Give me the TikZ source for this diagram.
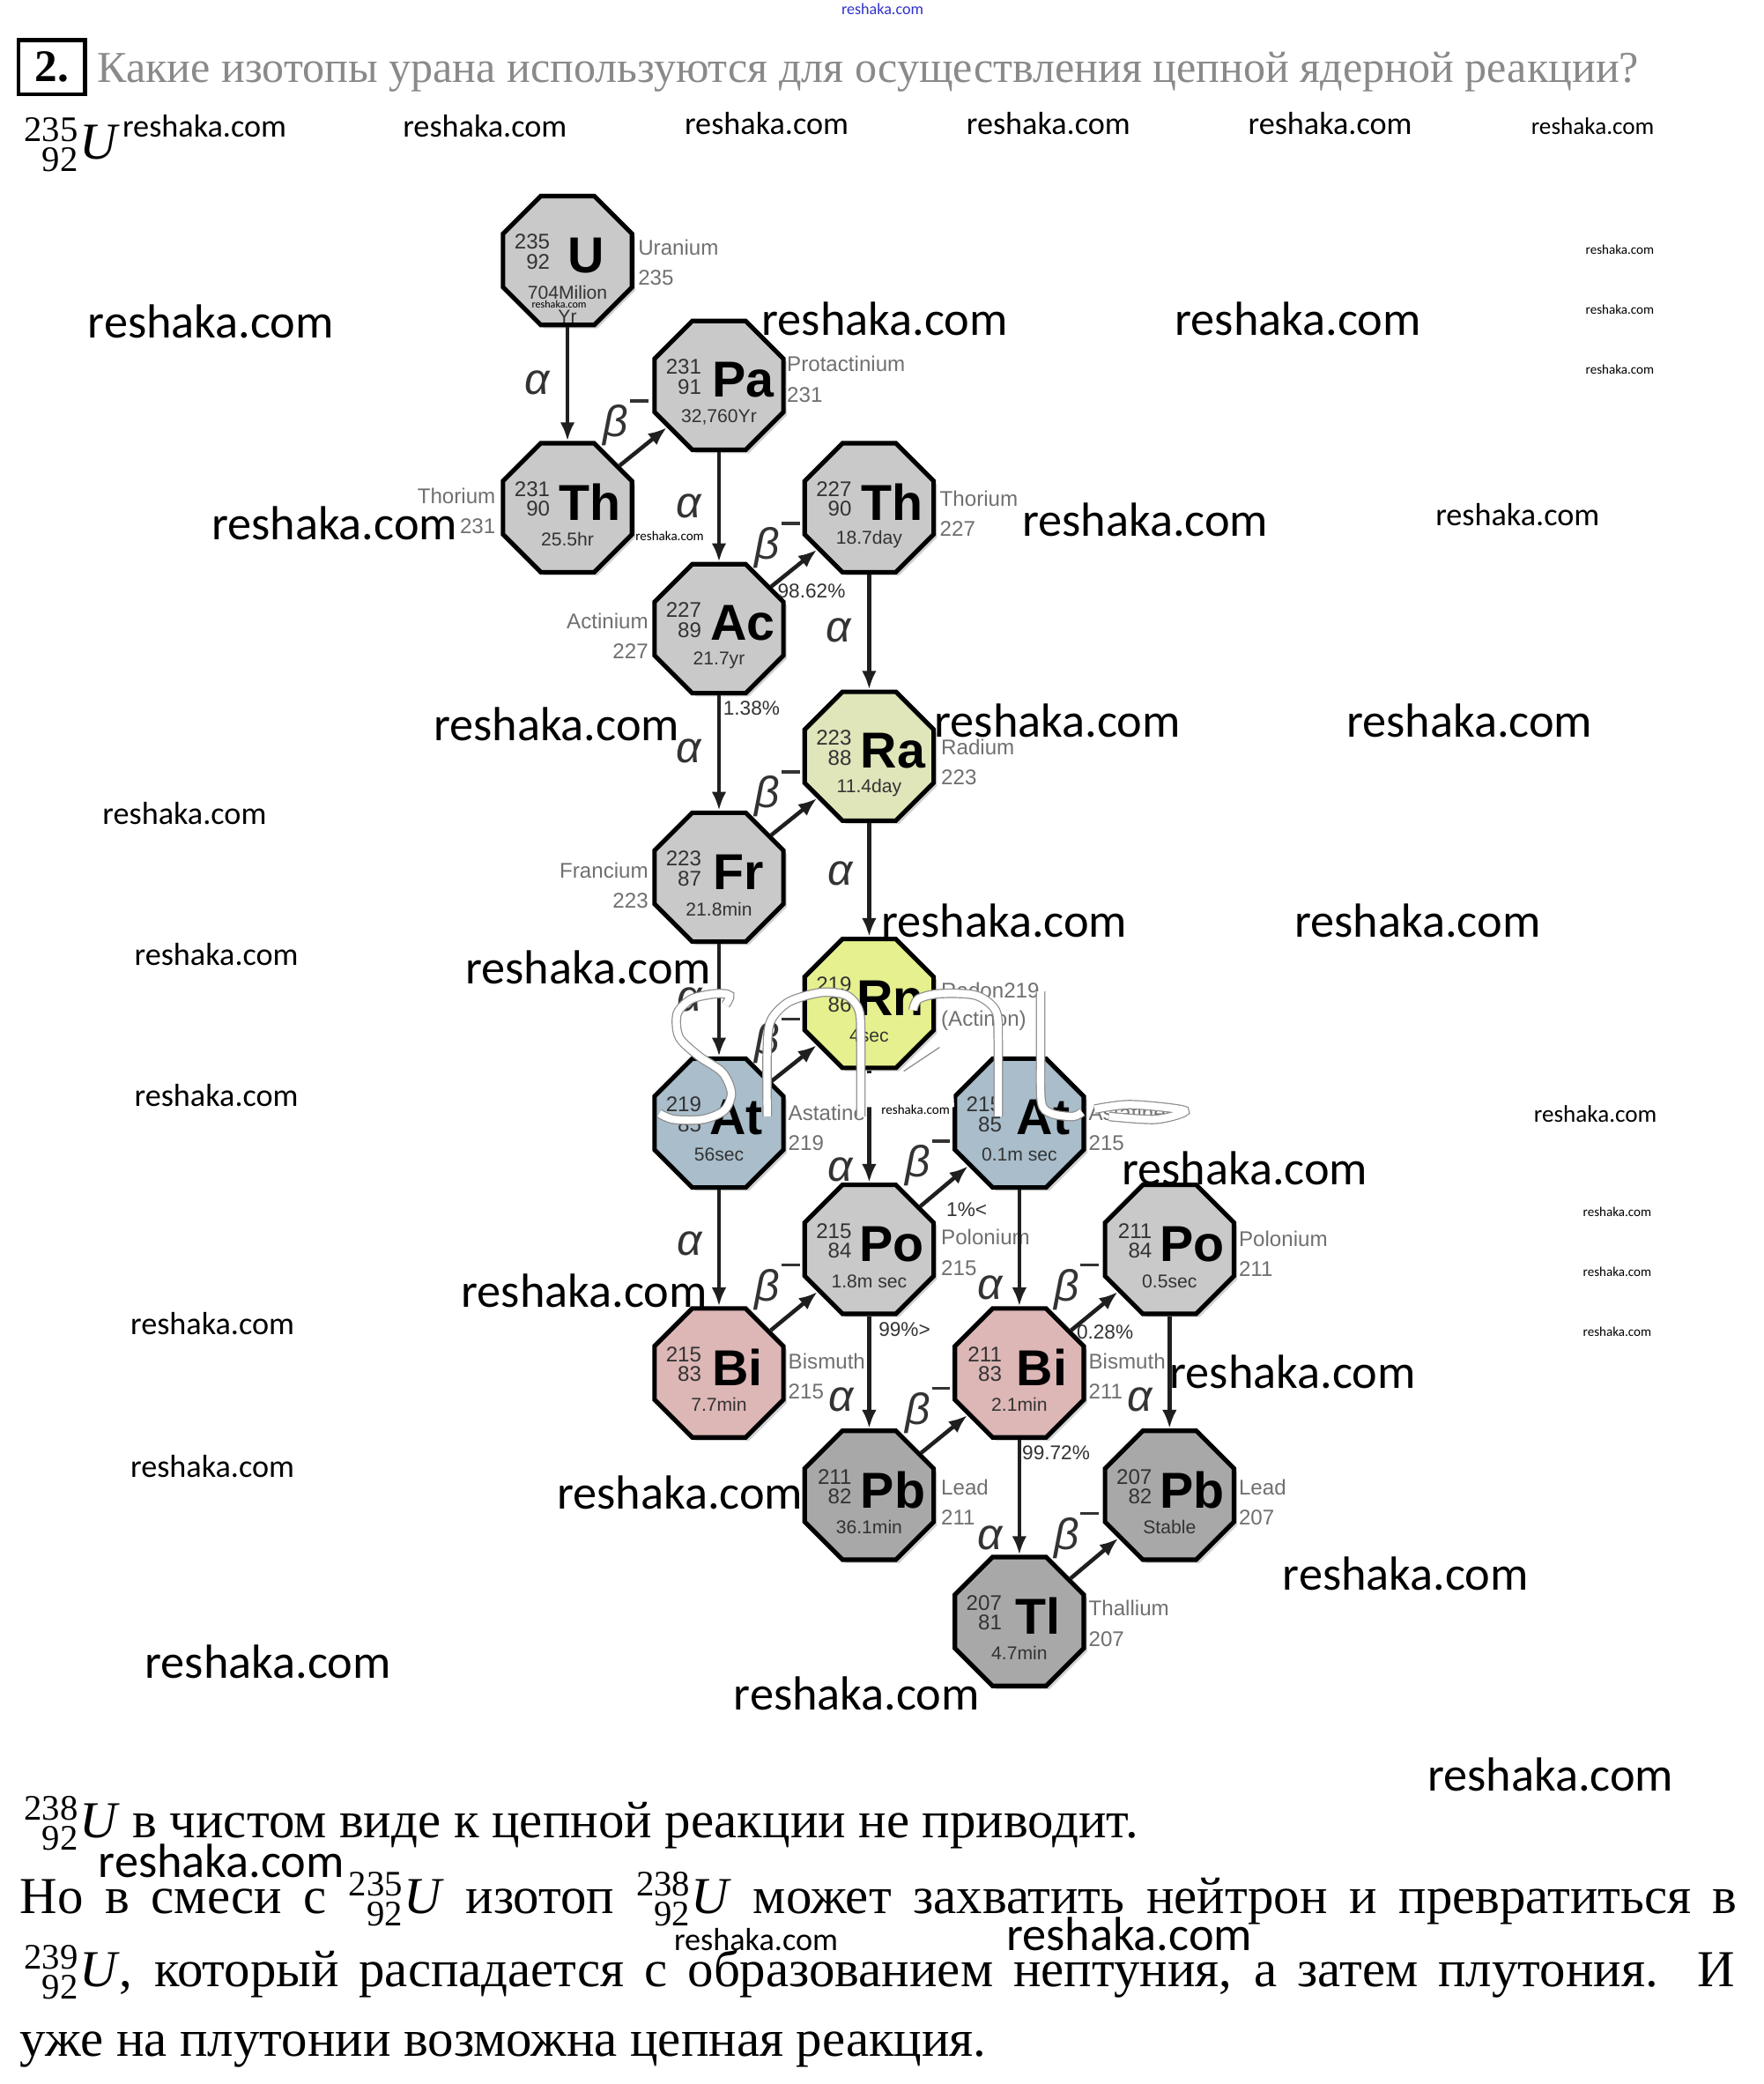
\documentclass[tikz,border=0pt]{standalone}
\usepackage{fontspec}
\usepackage{graphicx}
\setmainfont{Liberation Serif}
\newfontfamily\wmfont{Carlito}
\newfontfamily\arfont{Liberation Sans}
\usetikzlibrary{shapes.geometric,arrows.meta,shadows}
\definecolor{octgray}{HTML}{C9C9C9}
\definecolor{octdark}{HTML}{A8A8A8}
\definecolor{octra}{HTML}{E0E5BA}
\definecolor{octrn}{HTML}{E6F08E}
\definecolor{octat}{HTML}{A9BDCA}
\definecolor{octbi}{HTML}{DDB6B6}
\definecolor{txtdark}{HTML}{333333}
\definecolor{txtgray}{HTML}{707070}
\definecolor{hdrgray}{HTML}{8A8A8A}
\definecolor{wmblue}{HTML}{3333CC}
\tikzset{
  oct/.style={regular polygon, regular polygon sides=8, minimum size=105pt, inner sep=0pt,
    draw=black, line width=3.4pt,
    drop shadow={opacity=0.35, shadow xshift=2.5pt, shadow yshift=-2.5pt}},
  massn/.style={font=\arfont\fontsize{16}{16}\selectfont, text=txtdark, inner sep=0pt},
  symb/.style={font=\arfont\bfseries\fontsize{38}{38}\selectfont, inner sep=0pt},
  hlife/.style={font=\arfont\fontsize{14}{14}\selectfont, text=txtdark, inner sep=0pt},
  elname/.style={font=\arfont\fontsize{16}{16}\selectfont, text=txtgray, inner sep=0pt},
  pct/.style={font=\arfont\fontsize{15}{15}\selectfont, text=txtdark, inner sep=0pt, anchor=west},
  greek/.style={font=\arfont\itshape\fontsize{33}{33}\selectfont, text=txtdark, inner sep=0pt},
  arr/.style={line width=3pt, -{Latex[length=14pt,width=11pt]}, draw=black!88},
  wm/.style={font=\wmfont\fontsize{#1}{#1}\selectfont, inner sep=0pt, anchor=west},
  body/.style={font=\fontsize{39}{39}\selectfont, inner sep=0pt, anchor=base west},
  scrawl/.style={draw=black!45, line width=0.8pt, double=white, double distance=5.5pt},
}
% nuclide: mass, Z, symbol
\newcommand{\nuc}[3]{\mbox{{\fontsize{27}{27}\selectfont
  \setbox0\hbox{#1}\setbox2\hbox{#2}%
  \dimen0=\ifdim\wd0>\wd2 \wd0\else\wd2\fi
  \hbox to \dimen0{\hss\raisebox{0.5em}{#1}}\kern-\dimen0
  \hbox to \dimen0{\hss\raisebox{-0.33em}{#2}}}\kern1pt\textit{#3}}}
% id, x, y, fill, mass, Z, symbol, half-life, symbol x-offset
\newcommand{\iso}[9]{%
  \node[oct, fill=#4] (#1) at (#2,#3) {};
  \node[massn, anchor=east] (#1-a) at (#2-13,#3-14) {#5};
  \node[massn, anchor=east] (#1-z) at (#2-13,#3+1) {#6};
  \node[symb] (#1-s) at (#2+#9,#3-4) {#7};
  \node[hlife] (#1-h) at (#2,#3+24) {#8};
}
\newcommand{\rlab}[5]{%
  \node[elname, anchor=west] (#1-n) at (#2,#3) {#4};
  \node[elname, anchor=west] (#1-m) at (#2,#3+23) {#5};
}
\newcommand{\llab}[5]{%
  \node[elname, anchor=east] (#1-n) at (#2,#3) {#4};
  \node[elname, anchor=east] (#1-m) at (#2,#3+23) {#5};
}
\newcommand{\bminus}{β\hspace{0.04em}\rule[0.78em]{0.42em}{0.07em}}
\begin{document}
\begin{tikzpicture}[x=1pt,y=-1pt]
\useasboundingbox (0,0) rectangle (1327,1568);
\fill[white] (0,0) rectangle (1327,1568);

% header
\node[wm=12, text=wmblue, anchor=center] (wm0) at (664,7) {reshaka.com};
\node[draw, line width=3pt, minimum width=50pt, minimum height=41pt, inner sep=0pt,
  font=\bfseries\fontsize{34}{34}\selectfont] (qnum) at (39,50.5) {2.};
\node[anchor=base west, inner sep=0pt, text=hdrgray, font=\fontsize{34}{34}\selectfont] (qtext) at (73,62)
  {\resizebox{1160pt}{!}{Какие изотопы урана используются для осуществления цепной ядерной реакции?}};
\node[body] (u235) at (18,120) {\nuc{235}{92}{U}};

% isotopes
\iso{U}{427}{196}{octgray}{235}{92}{U}{704Milion}{14}
\node[hlife] (U-yr) at (427,238) {Yr};
\iso{Pa}{541}{290}{octgray}{231}{91}{Pa}{32,760Yr}{18}
\iso{ThA}{427}{382}{octgray}{231}{90}{Th}{25.5hr}{17}
\iso{ThB}{654}{382}{octgray}{227}{90}{Th}{18.7day}{17}
\iso{Ac}{541}{473}{octgray}{227}{89}{Ac}{21.7yr}{18}
\iso{Ra}{654}{569}{octra}{223}{88}{Ra}{11.4day}{18}
\iso{Fr}{541}{660}{octgray}{223}{87}{Fr}{21.8min}{15}
\iso{Rn}{654}{755}{octrn}{219}{86}{Rn}{4sec}{16}
\iso{AtA}{541}{845}{octat}{219}{85}{At}{56sec}{13}
\iso{AtB}{767}{845}{octat}{215}{85}{At}{0.1m sec}{18}
\iso{PoA}{654}{940}{octgray}{215}{84}{Po}{1.8m sec}{17}
\iso{PoB}{880}{940}{octgray}{211}{84}{Po}{0.5sec}{17}
\iso{BiA}{541}{1033}{octbi}{215}{83}{Bi}{7.7min}{14}
\iso{BiB}{767}{1033}{octbi}{211}{83}{Bi}{2.1min}{17}
\iso{PbA}{654}{1125}{octdark}{211}{82}{Pb}{36.1min}{18}
\iso{PbB}{880}{1125}{octdark}{207}{82}{Pb}{Stable}{17}
\iso{Tl}{767}{1220}{octdark}{207}{81}{Tl}{4.7min}{14}

% element names
\rlab{U}{480}{186}{Uranium}{235}
\rlab{Pa}{592}{274}{Protactinium}{231}
\llab{ThA}{373}{373}{Thorium}{231}
\rlab{ThB}{707}{375}{Thorium}{227}
\llab{Ac}{488}{467}{Actinium}{227}
\rlab{Ra}{708}{562}{Radium}{223}
\llab{Fr}{488}{655}{Francium}{223}
\rlab{Rn}{708}{745}{Radon219}{(Actinon)}
\rlab{AtA}{593}{837}{Astatine}{219}
\rlab{AtB}{819}{837}{Astatine}{215}
\rlab{PoA}{708}{931}{Polonium}{215}
\rlab{PoB}{932}{932}{Polonium}{211}
\rlab{BiA}{593}{1024}{Bismuth}{215}
\rlab{BiB}{819}{1024}{Bismuth}{211}
\rlab{PbA}{708}{1119}{Lead}{211}
\rlab{PbB}{932}{1119}{Lead}{207}
\rlab{Tl}{819}{1210}{Thallium}{207}

% branching ratios
\node[pct] (p1) at (585,445) {98.62\%};
\node[pct] (p2) at (544,533) {1.38\%};
\node[pct] (p3) at (712,910) {1\%<};
\node[pct] (p4) at (661,1000) {99\%>};
\node[pct] (p5) at (810,1002) {0.28\%};
\node[pct] (p6) at (769,1093) {99.72\%};

% alpha decays
\draw[arr] (U) -- (ThA);
\draw[arr] (Pa) -- (Ac);
\draw[arr] (ThB) -- (Ra);
\draw[arr] (Ac) -- (Fr);
\draw[arr] (Ra) -- (Rn);
\draw[arr] (Fr) -- (AtA);
\draw[arr] (Rn) -- (PoA);
\draw[arr] (AtA) -- (BiA);
\draw[arr] (AtB) -- (BiB);
\draw[arr] (PoA) -- (PbA);
\draw[arr] (PoB) -- (PbB);
\draw[arr] (BiB) -- (Tl);
% beta decays
\draw[arr] (ThA) -- (Pa);
\draw[arr] (Ac) -- (ThB);
\draw[arr] (Fr) -- (Ra);
\draw[arr] (AtA) -- (Rn);
\draw[arr] (PoA) -- (AtB);
\draw[arr] (BiA) -- (PoA);
\draw[arr] (BiB) -- (PoB);
\draw[arr] (PbA) -- (BiB);
\draw[arr] (Tl) -- (PbB);

% decay labels
\node[greek] (a1) at (404,288) {α};
\node[greek] (a2) at (518,381) {α};
\node[greek] (a3) at (631,474) {α};
\node[greek] (a4) at (518,565) {α};
\node[greek] (a5) at (632,657) {α};
\node[greek] (a6) at (519,752) {α};
\node[greek] (a7) at (632,880) {α};
\node[greek] (a8) at (519,936) {α};
\node[greek] (a9) at (745,969) {α};
\node[greek] (a10) at (633,1053) {α};
\node[greek] (a11) at (858,1053) {α};
\node[greek] (a12) at (745,1157) {α};
\node[greek] (b1) at (471,318) {\bminus};
\node[greek] (b2) at (585,410) {\bminus};
\node[greek] (b3) at (585,597) {\bminus};
\node[greek] (b4) at (585,783) {\bminus};
\node[greek] (b5) at (698,875) {\bminus};
\node[greek] (b6) at (585,968) {\bminus};
\node[greek] (b7) at (810,968) {\bminus};
\node[greek] (b8) at (698,1061) {\bminus};
\node[greek] (b9) at (810,1155) {\bminus};

% white scrawl overlay
\fill[white] (648,808) -- (680,806) -- (707,788) -- (716,791) -- (718,833) -- (648,833) -- cycle;
\draw[black!45, line width=0.8pt] (707,788) -- (680,806);
\draw[scrawl] plot[smooth] coordinates {(546,756) (549,749) (539,747.6) (520.5,751.6) (509.6,762.6) (511,780.3) (525.9,794.7) (543.5,806.8) (550.3,822.3) (544.8,835.6) (528.6,842.2) (507,842.2) (496.1,837.8)};
\draw[scrawl] plot[smooth] coordinates {(577.3,840) (577.3,790) (580,768) (593.6,753.8) (617.9,746.7) (636.9,748.9) (646.4,760.4) (647.7,782.5) (647.7,840)};
\draw[scrawl] plot[smooth] coordinates {(687,760) (691,751.6) (707.3,747.6) (734.3,748.9) (749.2,760.4) (751.1,782.5) (751.1,840)};
\draw[scrawl] plot[smooth] coordinates {(783,746) (783,789) (783.6,829) (791.2,837.8) (807.4,840) (814.2,836.7)};
\draw[scrawl] plot[smooth] coordinates {(823.7,834.5) (850.7,831.1) (891.3,835.6) (869.7,842.2) (834.5,840)};

% answer text
\node[body] (l1) at (18,1383) {\nuc{238}{92}{U} в чистом виде к цепной реакции не приводит.};
\node[body] (l2) at (15,1440) {\makebox[1292pt][s]{Но в смеси с \nuc{235}{92}{U} изотоп \nuc{238}{92}{U} может захватить нейтрон и превратиться в}};
\node[body] (l3) at (18,1495) {\makebox[1287pt][s]{\nuc{239}{92}{U}, который распадается с образованием нептуния, а затем плутония. И}};
\node[body] (l4) at (15,1547) {уже на плутонии возможна цепная реакция.};

% watermarks
\node[wm=24] (wm1) at (92,95) {reshaka.com};
\node[wm=24] (wm2) at (303,95) {reshaka.com};
\node[wm=24] (wm3) at (515,93) {reshaka.com};
\node[wm=24] (wm4) at (727,93) {reshaka.com};
\node[wm=24] (wm5) at (939,93) {reshaka.com};
\node[wm=18] (wm6) at (1152,95) {reshaka.com};
\node[wm=36] (wm7) at (66,242) {reshaka.com};
\node[wm=36] (wm8) at (573,240) {reshaka.com};
\node[wm=36] (wm9) at (884,240) {reshaka.com};
\node[wm=10] (wm10) at (1193,188) {reshaka.com};
\node[wm=10] (wm11) at (1193,233) {reshaka.com};
\node[wm=10] (wm12) at (1193,278) {reshaka.com};
\node[wm=8] (wm13) at (400,229) {reshaka.com};
\node[wm=36] (wm14) at (159,394) {reshaka.com};
\node[wm=10] (wm15) at (478,403) {reshaka.com};
\node[wm=36] (wm16) at (769,391) {reshaka.com};
\node[wm=24] (wm17) at (1080,387) {reshaka.com};
\node[wm=36] (wm18) at (326,545) {reshaka.com};
\node[wm=36] (wm19) at (703,542) {reshaka.com};
\node[wm=36] (wm20) at (1013,542) {reshaka.com};
\node[wm=24] (wm21) at (77,612) {reshaka.com};
\node[wm=36] (wm22) at (663,693) {reshaka.com};
\node[wm=36] (wm23) at (974,693) {reshaka.com};
\node[wm=24] (wm24) at (101,718) {reshaka.com};
\node[wm=36] (wm25) at (350,728) {reshaka.com};
\node[wm=24] (wm26) at (101,824) {reshaka.com};
\node[wm=10, fill=white] (wm27) at (663,835) {reshaka.com};
\node[wm=18] (wm28) at (1154,838) {reshaka.com};
\node[wm=36] (wm29) at (844,879) {reshaka.com};
\node[wm=10] (wm30) at (1191,912) {reshaka.com};
\node[wm=10] (wm31) at (1191,957) {reshaka.com};
\node[wm=10] (wm32) at (1191,1002) {reshaka.com};
\node[wm=36] (wm33) at (347,971) {reshaka.com};
\node[wm=24] (wm34) at (98,996) {reshaka.com};
\node[wm=36] (wm35) at (880,1032) {reshaka.com};
\node[wm=24] (wm36) at (98,1103) {reshaka.com};
\node[wm=36] (wm37) at (419,1123) {reshaka.com};
\node[wm=36] (wm38) at (965,1184) {reshaka.com};
\node[wm=36] (wm39) at (109,1250) {reshaka.com};
\node[wm=36] (wm40) at (552,1274) {reshaka.com};
\node[wm=36] (wm41) at (1074,1335) {reshaka.com};
\node[wm=36] (wm42) at (74,1400) {reshaka.com};
\node[wm=24] (wm43) at (507,1459) {reshaka.com};
\node[wm=36] (wm44) at (757,1455) {reshaka.com};
\end{tikzpicture}
\end{document}
